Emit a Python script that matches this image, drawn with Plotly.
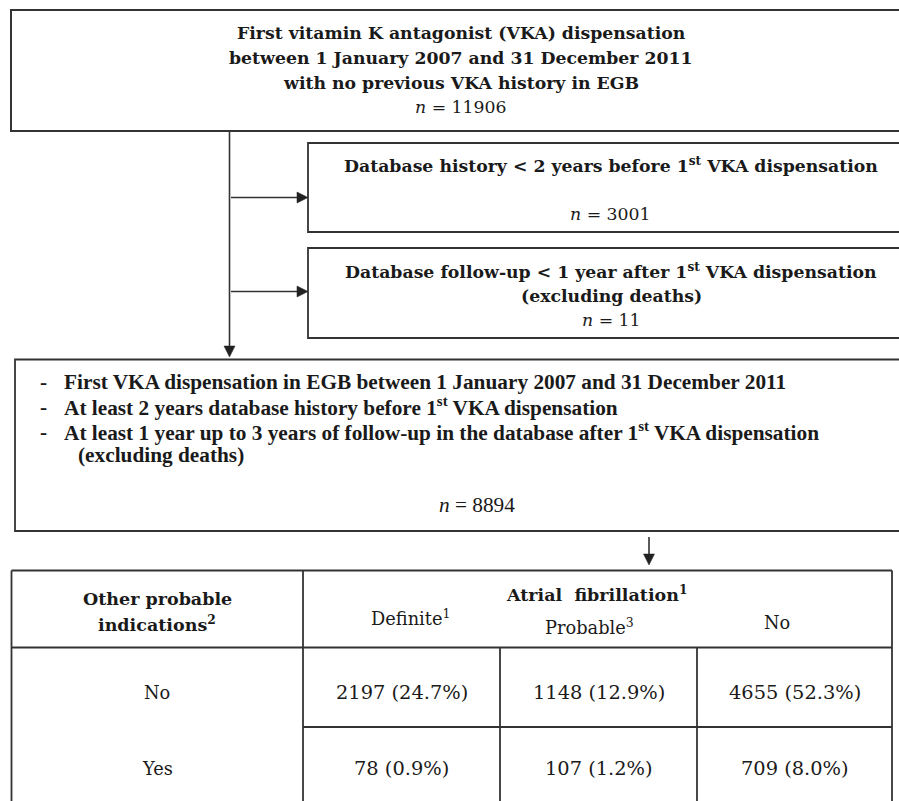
import plotly.graph_objects as go

# ---------------- data ----------------
total_first_vka = 11906
excluded_labels = ["Database history < 2 years before 1<sup>st</sup> VKA dispensation",
                   "Database follow-up < 1 year after 1<sup>st</sup> VKA dispensation<br>(excluding deaths)"]
excluded_counts = [3001, 11]
included_count = 8894
criteria = ["First VKA dispensation in EGB between 1 January 2007 and 31 December 2011",
            "At least 2 years database history before 1<sup>st</sup> VKA dispensation",
            "At least 1 year up to 3 years of follow-up in the database after 1<sup>st</sup> VKA dispensation"]
af_categories = ["Definite<sup>1</sup>", "Probable<sup>3</sup>", "No"]
other_ind_rows = ["No", "Yes"]
counts = [[2197, 1148, 4655],
          [78, 107, 709]]
percents = [[24.7, 12.9, 52.3],
            [0.9, 1.2, 8.0]]

W, H = 899, 801
LC = "#333333"
CAMB = "DejaVu Serif"
TIMES = "Liberation Serif"

fig = go.Figure()
shapes = []
ann = []

def rect(x0, y0, x1, y1, w=1.8):
    shapes.append(dict(type="rect", x0=x0, y0=y0, x1=x1, y1=y1, xref="x", yref="y",
                       line=dict(color=LC, width=w), fillcolor="rgba(0,0,0,0)"))

def line(x0, y0, x1, y1, w=1.6):
    shapes.append(dict(type="line", x0=x0, y0=y0, x1=x1, y1=y1, xref="x", yref="y",
                       line=dict(color=LC, width=w)))

def tri_right(xt, y, L=11, hw=5.5):
    shapes.append(dict(type="path", path=f"M {xt} {y} L {xt-L} {y-hw} L {xt-L} {y+hw} Z",
                       xref="x", yref="y", fillcolor="#222", line=dict(color="#222", width=0.5)))

def tri_down(x, yt, L=11, hw=5.5):
    shapes.append(dict(type="path", path=f"M {x} {yt} L {x-hw} {yt-L} L {x+hw} {yt-L} Z",
                       xref="x", yref="y", fillcolor="#222", line=dict(color="#222", width=0.5)))

def text(x, y, s, size, family=CAMB, xanchor="center", bold=False, color="#1a1a1a"):
    ann.append(dict(x=x, y=y, xref="x", yref="y", text=s, showarrow=False,
                    xanchor=xanchor, yanchor="middle", align=xanchor if xanchor != "center" else "center",
                    font=dict(family=family, size=size, color=color,
                              weight="bold" if bold else "normal")))

FS_TOP = 17.3
FS_T = 21.3

# ---- top box
rect(11, 10, 920, 131, 2)
top_lines = ["First vitamin K antagonist (VKA) dispensation",
             "between 1 January 2007 and 31 December 2011",
             "with no previous VKA history in EGB"]
for i, s in enumerate(top_lines):
    text(461, 33 + 25 * i, s, FS_TOP, bold=True)
text(461, 107, f"<i>n</i> = {total_first_vka}", FS_TOP)

# ---- vertical main line with branches
line(229.5, 131, 229.5, 348)
tri_down(229.5, 357)

# ---- exclusion box 1
rect(308, 143, 920, 232)
line(231, 197.5, 299, 197.5)
tri_right(308, 197.5)
text(611, 165, excluded_labels[0], FS_TOP, bold=True)
text(610, 214, f"<i>n</i> = {excluded_counts[0]}", FS_TOP)

# ---- exclusion box 2
rect(308, 248, 920, 338)
line(231, 291.5, 299, 291.5)
tri_right(308, 291.5)
l1, l2 = excluded_labels[1].split("<br>")
text(611, 270.5, l1, FS_TOP, bold=True)
text(611, 295.5, l2, FS_TOP, bold=True)
text(611, 320, f"<i>n</i> = {excluded_counts[1]}", FS_TOP)

# ---- included box
rect(15, 359.5, 920, 531)
for i, s in enumerate(criteria):
    y = 381.5 + 25 * i
    text(38, y, "-", FS_T, TIMES, "left", bold=True)
    text(62, y, s, FS_T, TIMES, "left", bold=True)
text(76, 455, "(excluding deaths)", FS_T, TIMES, "left", bold=True)
text(477, 505, f"<i>n</i> = {included_count}", FS_T, TIMES)

# ---- arrow to table
line(649, 537, 649, 556)
tri_down(649, 565)

# ---- table
tx = [11.5, 303, 500, 697, 892]
ty = [570.5, 647.5, 727, 830]
lw = 1.8
line(tx[0], ty[0], tx[4], ty[0], lw)          # top
line(tx[0], ty[1], tx[4], ty[1], lw)          # header bottom
line(tx[1], ty[2], tx[4], ty[2], lw)          # row divider (value columns)
line(tx[0], ty[0], tx[0], ty[3], lw)          # left
line(tx[1], ty[0], tx[1], ty[3], lw)          # label column right
line(tx[4], ty[0], tx[4], ty[3], lw)          # right
line(tx[2], ty[1], tx[2], ty[3], lw)
line(tx[3], ty[1], tx[3], ty[3], lw)

text(157, 599, "Other probable", 17.5, bold=True)
text(157, 623.5, "indications<sup>2</sup>", 17.5, bold=True)
text(597, 593, "Atrial  fibrillation<sup>1</sup>", 17.5, bold=True)
sub_y = [617, 626, 622]
sub_x = [410, 589, 777]
for c, lab in enumerate(af_categories):
    text(sub_x[c], sub_y[c], lab, 17.8)

row_y = [692, 768]
for r, lab in enumerate(other_ind_rows):
    text(157, row_y[r], lab, 17.8)
    for c in range(3):
        cx = (tx[c + 1] + tx[c + 2]) / 2
        text(cx, row_y[r], f"{counts[r][c]} ({percents[r][c]:.1f}%)", 19.4)

fig.update_layout(
    width=W, height=H, margin=dict(l=0, r=0, t=0, b=0),
    paper_bgcolor="white", plot_bgcolor="white",
    xaxis=dict(range=[0, W], visible=False, fixedrange=True),
    yaxis=dict(range=[H, 0], visible=False, fixedrange=True),
    shapes=shapes, annotations=ann, showlegend=False,
)
fig.write_html("out.html", config={"displayModeBar": False},
               post_script="document.body.style.margin='0';document.body.style.overflow='hidden';")
